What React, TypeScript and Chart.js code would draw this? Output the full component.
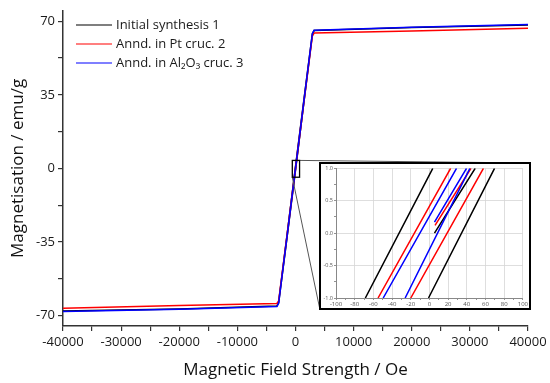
import React, { useEffect, useRef } from 'react';
import { Chart, registerables } from 'chart.js';

Chart.register(...registerables);

const FONT = "'Open Sans', 'DejaVu Sans', sans-serif";

// ---------- data ----------
const SERIES_LABELS = ['Initial synthesis 1', 'Annd. in Pt cruc. 2', 'Annd. in Al\u2082O\u2083 cruc. 3'];
const SERIES_COLORS = ['#000000', '#ff0000', '#0000ff'];

// main loop: field values (Oe) for the ascending branch, then descending branch
const FIELD_UP = [-40000, -20000, -3200, -2900, -1500, 0, 1500, 2900, 3200, 20000, 40000];
const FIELD_DOWN = [40000, 20000, 3200, 2900, 1500, 0, -1500, -2900, -3200, -20000, -40000];

const BLACK_UP = [-67.9, -66.9, -65.5, -64.0, -33.8, -0.9, 32.8, 63.8, 65.6, 67.0, 68.3];
const BLACK_DOWN = [68.3, 67.0, 65.6, 64.0, 33.8, 0.9, -32.8, -63.8, -65.5, -66.9, -67.9];
const RED_UP = [-66.5, -65.3, -64.3, -63.0, -33.0, -0.45, 32.6, 63.0, 64.4, 65.4, 66.7];
const RED_DOWN = [66.7, 65.4, 64.4, 63.0, 33.0, 0.4, -32.6, -63.0, -64.3, -65.3, -66.5];
const BLUE_UP = [-68.1, -67.0, -65.7, -64.2, -33.5, -0.3, 33.0, 64.0, 65.8, 67.2, 68.5];
const BLUE_DOWN = [68.5, 67.2, 65.8, 64.2, 33.5, 0.3, -33.0, -64.0, -65.7, -67.0, -68.1];

// inset (zoom around origin): descending segment, ascending segment, initial curve (null = gap)
const INSET_BLACK_H = [3.6, -68.6, 0, -1.0, 69.7, 0, 5.4, 49.0];
const INSET_BLACK_M = [1, -1, null, -1, 1, null, 0.0, 1];
const INSET_RED_H = [22.7, -55.0, 0, -20.0, 57.8, 0, 6.0, 44.5];
const INSET_RED_M = [1, -1, null, -1, 1, null, 0.12, 1];
const INSET_BLUE_H = [29.0, -49.5, 0, -26.0, 43.3, 0, 5.4, 39.7];
const INSET_BLUE_M = [1, -1, null, -1, 1, null, 0.17, 1];

// ticks
const X_TICKS = [-40000, -35000, -30000, -25000, -20000, -15000, -10000, -5000, 0, 5000, 10000, 15000, 20000, 25000, 30000, 35000, 40000];
const X_LABELS = [-40000, -30000, -20000, -10000, 0, 10000, 20000, 30000, 40000];
const Y_TICKS = [-70, -52.5, -35, -17.5, 0, 17.5, 35, 52.5, 70];
const Y_LABELS = [-70, -35, 0, 35, 70];
const INSET_X_TICKS = [-100, -90, -80, -70, -60, -50, -40, -30, -20, -10, 0, 10, 20, 30, 40, 50, 60, 70, 80, 90, 100];
const INSET_X_LABELS = [-100, -80, -60, -40, -20, 0, 20, 40, 60, 80, 100];
const INSET_Y_TICKS = [-1, -0.75, -0.5, -0.25, 0, 0.25, 0.5, 0.75, 1];
const INSET_Y_LABELS = [-1, -0.5, 0, 0.5, 1];

// zoom marker in main chart (data units)
const ZOOM_MARK_X = [-550, 700];
const ZOOM_MARK_Y = [-4.2, 3.8];

// ---------- layout ----------
const W = 550;
const H = 383;
const INSET_BOX = { left: 319, top: 162, width: 212, height: 148 };

const zip = (xs: number[], ys: (number | null)[]) => xs.map((x, i) => ({ x, y: ys[i] }));

const legendPlugin = {
  id: 'insideLegend',
  afterDraw(chart: any) {
    const ctx = chart.ctx;
    ctx.save();
    ctx.font = `13px ${FONT}`;
    ctx.textBaseline = 'middle';
    ctx.textAlign = 'left';
    SERIES_LABELS.forEach((label, i) => {
      const y = 25 + i * 19;
      ctx.strokeStyle = SERIES_COLORS[i];
      ctx.lineWidth = 1.2;
      ctx.beginPath();
      ctx.moveTo(76, y);
      ctx.lineTo(112, y);
      ctx.stroke();
      ctx.fillStyle = '#1a1a1a';
      ctx.fillText(label, 116, y + 0.5);
    });
    ctx.restore();
  },
};

const zoomMarkPlugin = {
  id: 'zoomMark',
  afterDatasetsDraw(chart: any) {
    const { ctx, scales } = chart;
    const x0 = scales.x.getPixelForValue(ZOOM_MARK_X[0]);
    const x1 = scales.x.getPixelForValue(ZOOM_MARK_X[1]);
    const y0 = scales.y.getPixelForValue(ZOOM_MARK_Y[1]);
    const y1 = scales.y.getPixelForValue(ZOOM_MARK_Y[0]);
    ctx.save();
    ctx.strokeStyle = '#555';
    ctx.lineWidth = 1;
    ctx.beginPath();
    ctx.moveTo(x1, y0);
    ctx.lineTo(INSET_BOX.left + INSET_BOX.width, INSET_BOX.top + 1);
    ctx.moveTo(x0, y1);
    ctx.lineTo(INSET_BOX.left + 1, INSET_BOX.top + INSET_BOX.height);
    ctx.stroke();
    ctx.strokeStyle = '#000';
    ctx.lineWidth = 1.3;
    ctx.strokeRect(x0, y0, x1 - x0, y1 - y0);
    ctx.restore();
  },
};

export default function App() {
  const mainRef = useRef<HTMLCanvasElement>(null);
  const insetRef = useRef<HTMLCanvasElement>(null);

  useEffect(() => {
    const mainData = [
      [...zip(FIELD_UP, BLACK_UP), ...zip(FIELD_DOWN, BLACK_DOWN)],
      [...zip(FIELD_UP, RED_UP), ...zip(FIELD_DOWN, RED_DOWN)],
      [...zip(FIELD_UP, BLUE_UP), ...zip(FIELD_DOWN, BLUE_DOWN)],
    ];
    const main = new Chart(mainRef.current!, {
      type: 'line',
      data: {
        datasets: mainData.map((d, i) => ({
          label: SERIES_LABELS[i],
          data: d,
          borderColor: SERIES_COLORS[i],
          borderWidth: 1.5,
          pointRadius: 0,
          tension: 0,
          fill: false,
          order: 2 - i,
        })),
      },
      options: {
        responsive: false,
        animation: false,
        parsing: true,
        layout: { padding: { top: 7, right: 22, bottom: 0, left: 0 } },
        plugins: { legend: { display: false }, tooltip: { enabled: false } },
        scales: {
          x: {
            type: 'linear',
            min: -40000,
            max: 40000,
            afterBuildTicks: (s: any) => { s.ticks = X_TICKS.map((v) => ({ value: v })); },
            afterFit: (s: any) => { s.height = 57; },
            ticks: {
              autoSkip: false,
              maxRotation: 0,
              padding: 3,
              color: '#1a1a1a',
              font: { family: FONT, size: 13 },
              callback: (v: any) => (X_LABELS.includes(Number(v)) ? String(v) : ''),
            },
            grid: { drawOnChartArea: false, drawTicks: true, tickLength: 5, color: '#333', lineWidth: 1.2 },
            border: { display: true, color: '#333', width: 1.5 },
            title: {
              display: true,
              text: 'Magnetic Field Strength / Oe',
              color: '#111',
              font: { family: FONT, size: 17 },
              padding: { top: 0, bottom: 3 },
            },
          },
          y: {
            type: 'linear',
            min: -75,
            max: 75,
            afterBuildTicks: (s: any) => { s.ticks = Y_TICKS.map((v) => ({ value: v })); },
            afterFit: (s: any) => { s.width = 63; },
            ticks: {
              autoSkip: false,
              padding: 3,
              color: '#1a1a1a',
              font: { family: FONT, size: 13 },
              callback: (v: any) => (Y_LABELS.includes(Number(v)) ? String(v) : ''),
            },
            grid: { drawOnChartArea: false, drawTicks: true, tickLength: 5, color: '#333', lineWidth: 1.2 },
            border: { display: true, color: '#333', width: 1.5 },
            title: {
              display: true,
              text: 'Magnetisation / emu/g',
              color: '#111',
              font: { family: FONT, size: 17 },
              padding: { top: 8, bottom: 0 },
            },
          },
        },
      },
      plugins: [zoomMarkPlugin, legendPlugin],
    } as any);

    const insetData = [
      zip(INSET_BLACK_H, INSET_BLACK_M),
      zip(INSET_RED_H, INSET_RED_M),
      zip(INSET_BLUE_H, INSET_BLUE_M),
    ];
    const gridColor = (major: number[]) => (c: any) =>
      c.tick && major.some((m) => Math.abs(m - c.tick.value) < 1e-9) ? '#d6d6d6' : 'rgba(0,0,0,0)';
    const inset = new Chart(insetRef.current!, {
      type: 'line',
      data: {
        datasets: insetData.map((d, i) => ({
          label: SERIES_LABELS[i],
          data: d,
          borderColor: SERIES_COLORS[i],
          borderWidth: 1.5,
          pointRadius: 0,
          tension: 0,
          spanGaps: false,
          fill: false,
          order: 2 - i,
        })),
      },
      options: {
        responsive: false,
        animation: false,
        layout: { padding: { top: 2, right: 6, bottom: 0, left: 0 } },
        plugins: { legend: { display: false }, tooltip: { enabled: false } },
        scales: {
          x: {
            type: 'linear',
            min: -100,
            max: 100,
            afterBuildTicks: (s: any) => { s.ticks = INSET_X_TICKS.map((v) => ({ value: v })); },
            afterFit: (s: any) => { s.height = 10; },
            ticks: {
              autoSkip: false,
              maxRotation: 0,
              padding: 1,
              color: '#555',
              font: { family: FONT, size: 6 },
              callback: (v: any) => (INSET_X_LABELS.includes(Number(v)) ? String(v) : ''),
            },
            grid: { color: gridColor(INSET_X_LABELS), tickColor: '#777', tickLength: 2, lineWidth: 0.8 },
            border: { display: true, color: '#888', width: 1 },
          },
          y: {
            type: 'linear',
            min: -1,
            max: 1,
            afterBuildTicks: (s: any) => { s.ticks = INSET_Y_TICKS.map((v) => ({ value: v })); },
            afterFit: (s: any) => { s.width = 15; },
            ticks: {
              autoSkip: false,
              padding: 1,
              color: '#555',
              font: { family: FONT, size: 5.5 },
              callback: (v: any) => (INSET_Y_LABELS.includes(Number(v)) ? Number(v).toFixed(1) : ''),
            },
            grid: { color: gridColor(INSET_Y_LABELS), tickColor: '#777', tickLength: 2, lineWidth: 0.8 },
            border: { display: true, color: '#888', width: 1 },
          },
        },
      },
    } as any);

    return () => {
      main.destroy();
      inset.destroy();
    };
  }, []);

  return (
    <div style={{ position: 'fixed', left: 0, top: 0, width: W, height: H, background: '#fff' }}>
      <canvas ref={mainRef} width={W} height={H} style={{ position: 'absolute', left: 0, top: 0 }} />
      <div
        style={{
          position: 'absolute',
          left: INSET_BOX.left,
          top: INSET_BOX.top,
          width: INSET_BOX.width,
          height: INSET_BOX.height,
          boxSizing: 'border-box',
          border: '2px solid #000',
          background: '#fff',
        }}
      >
        <canvas
          ref={insetRef}
          width={INSET_BOX.width - 4}
          height={INSET_BOX.height - 4}
          style={{ position: 'absolute', left: 0, top: 0 }}
        />
      </div>
    </div>
  );
}
